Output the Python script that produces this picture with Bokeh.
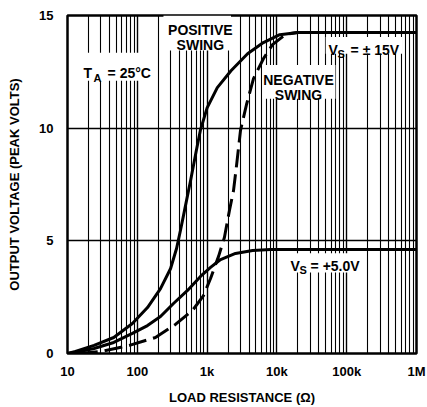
from bokeh.plotting import figure
from bokeh.models import FixedTicker, Range1d
from bokeh.core.properties import value
from bokeh.embed import file_html
from bokeh.resources import INLINE

# ---- data ----
load_pos15 = [10, 13, 24, 46, 85, 140, 215, 300, 365, 415, 475, 580, 700, 800,
              1000, 1400, 2200, 3800, 6400, 11000, 20000, 50000, 1000000]
volt_pos15 = [0.0, 0.09, 0.36, 0.71, 1.33, 2.04, 2.88, 3.77, 4.66, 5.46, 6.35, 7.68,
              9.0, 9.9, 10.9, 11.8, 12.55, 13.3, 13.8, 14.15, 14.25, 14.25, 14.25]

load_neg15 = [15, 30, 77, 182, 352, 618, 888, 1120, 1460, 1770, 2090, 2390, 2640,
              3010, 3670, 4620, 6430, 8650, 13300, 19700]
volt_neg15 = [0.0, 0.09, 0.36, 0.71, 1.29, 1.91, 2.57, 3.33, 4.31, 5.15, 6.35, 7.23,
              8.34, 9.9, 11.05, 12.2, 13.09, 13.71, 14.16, 14.25]

load_5v = [10, 15, 24, 46, 85, 140, 215, 330, 524, 804, 1120, 1560, 2550, 4490,
           8100, 50000, 1000000]
volt_5v = [0.0, 0.09, 0.22, 0.49, 0.89, 1.24, 1.64, 2.22, 2.80, 3.42, 3.82, 4.17,
           4.44, 4.57, 4.62, 4.62, 4.62]

x_tick_values = [10, 100, 1000, 10000, 100000, 1000000]
x_tick_labels = ["10", "100", "1k", "10k", "100k", "1M"]
y_tick_values = [0, 5, 10, 15]
y_grid_values = [5, 10]

FONT = "Liberation Sans"

minor_x = [m * d for d in [10, 100, 1000, 10000, 100000] for m in range(2, 10)]

p = figure(width=427, height=407, x_axis_type="log",
           x_range=Range1d(10, 1000000), y_range=Range1d(0, 15),
           output_backend="svg", toolbar_location=None,
           min_border_left=67, min_border_right=11, min_border_top=15,
           min_border_bottom=54)
p.background_fill_color = "white"
p.border_fill_color = "white"
p.outline_line_color = "black"
p.outline_line_width = 2.5

xt = FixedTicker(ticks=x_tick_values, minor_ticks=minor_x)
p.xaxis.ticker = xt
p.xgrid.ticker = xt
p.xaxis.major_label_overrides = {v: l for v, l in zip(x_tick_values, x_tick_labels)}
p.yaxis.ticker = FixedTicker(ticks=y_tick_values)
p.ygrid.ticker = FixedTicker(ticks=y_grid_values)

p.xgrid.grid_line_color = "black"
p.xgrid.grid_line_width = 1.4
p.xgrid.minor_grid_line_color = "black"
p.xgrid.minor_grid_line_width = 1.1
p.ygrid.grid_line_color = "black"
p.ygrid.grid_line_width = 1.4

for ax in (p.xaxis, p.yaxis):
    ax.axis_line_color = None
    ax.major_tick_line_color = None
    ax.minor_tick_line_color = None
    ax.major_tick_out = 0
    ax.minor_tick_out = 0
    ax.major_label_text_font = FONT
    ax.major_label_text_font_style = "bold"
    ax.major_label_text_font_size = "13px"
    ax.major_label_text_color = "black"
    ax.axis_label_text_font = FONT
    ax.axis_label_text_font_style = "bold"
    ax.axis_label_text_font_size = "13px"
    ax.axis_label_text_color = "black"

p.xaxis.major_label_standoff = 10
p.yaxis.major_label_standoff = 14
p.xaxis.axis_label = "LOAD RESISTANCE (Ω)"
p.yaxis.axis_label = "OUTPUT VOLTAGE (PEAK VOLTS)"
p.xaxis.axis_label_standoff = 8
p.yaxis.axis_label_standoff = 14

# white knock-out boxes behind the in-chart texts
box_left = [15.4, 237, 6200, 50000, 14000]
box_right = [160, 2200, 69000, 630000, 160000]
box_bottom = [12.1, 13.45, 11.3, 13.3, 3.6]
box_top = [13.35, 15.0, 12.8, 14.05, 4.45]
p.quad(left=box_left, right=box_right, bottom=box_bottom, top=box_top,
       fill_color="white", line_color=None)

# curves
p.line(load_pos15, volt_pos15, line_color="black", line_width=3)
p.line(load_neg15, volt_neg15, line_color="black", line_width=3, line_dash="18 7")
p.line(load_5v, volt_5v, line_color="black", line_width=3)

txt = dict(text_font=value(FONT), text_font_style="bold", text_color="black",
           text_baseline="alphabetic")

# centered two-line labels
p.text(x=[800, 800, 20400, 20400], y=[14.34, 13.67, 12.12, 11.45],
       text=["POSITIVE", "SWING", "NEGATIVE", "SWING"],
       text_align="center", text_font_size="14px", **txt)

# T_A = 25°C
p.text(x=[17], y=[12.47], text=["T"], text_align="left", text_font_size="14px", **txt)
p.text(x=[17], y=[12.47], text=["A"], x_offset=10, y_offset=5,
       text_align="left", text_font_size="11px", **txt)
p.text(x=[17], y=[12.47], text=["= 25°C"], x_offset=24,
       text_align="left", text_font_size="14px", **txt)

# V_S = ± 15V
p.text(x=[55000], y=[13.45], text=["V"], text_align="left", text_font_size="14px", **txt)
p.text(x=[55000], y=[13.45], text=["S"], x_offset=9, y_offset=4,
       text_align="left", text_font_size="11px", **txt)
p.text(x=[55000], y=[13.45], text=["= ± 15V"], x_offset=22,
       text_align="left", text_font_size="14px", **txt)

# V_S = +5.0V
p.text(x=[15700], y=[3.9], text=["V"], text_align="left", text_font_size="14px", **txt)
p.text(x=[15700], y=[3.9], text=["S"], x_offset=9, y_offset=4,
       text_align="left", text_font_size="11px", **txt)
p.text(x=[15700], y=[3.9], text=["= +5.0V"], x_offset=20,
       text_align="left", text_font_size="14px", **txt)

open("out.html", "w").write(file_html(p, INLINE))
